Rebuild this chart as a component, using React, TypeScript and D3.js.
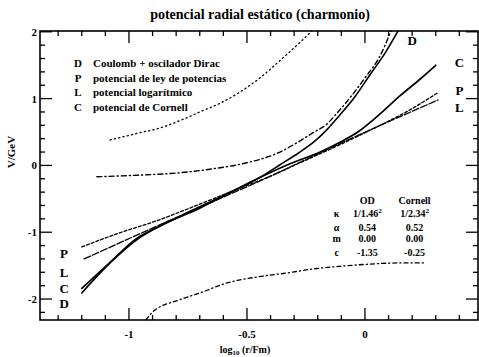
import React from 'react';
import * as d3 from 'd3';

// curve data (log10 r/Fm, V/GeV)
const dX = [-1.2, -1.08, -0.97, -0.87, -0.7, -0.57, -0.45, -0.36, -0.28, -0.21, -0.16, -0.11, -0.04, 0.02, 0.085, 0.14];
const dY = [-1.91, -1.46, -1.12, -0.91, -0.64, -0.41, -0.19, 0.01, 0.19, 0.37, 0.54, 0.74, 1.04, 1.35, 1.68, 2.01];

const cX = [-1.2, -1.08, -0.97, -0.87, -0.7, -0.57, -0.45, -0.32, -0.19, -0.11, -0.03, 0.064, 0.148, 0.233, 0.3];
const cY = [-1.84, -1.45, -1.1, -0.91, -0.62, -0.4, -0.19, 0.02, 0.2, 0.34, 0.5, 0.77, 1.04, 1.29, 1.5];

const lX = [-1.19, -0.87, -0.4, -0.11, 0.31];
const lY = [-1.4, -0.89, -0.16, 0.32, 0.98];

const pX = [-1.2, -1.04, -0.9, -0.7, -0.53, -0.4, -0.275, -0.106, 0.064, 0.19, 0.305];
const pY = [-1.22, -1.01, -0.85, -0.58, -0.34, -0.16, 0.04, 0.31, 0.6, 0.83, 1.08];

// dash-dot curve that joins D
const mX = [-1.136, -0.924, -0.784, -0.644, -0.5, -0.36, -0.288, -0.22, -0.161, -0.119, -0.064, 0, 0.064, 0.11];
const mY = [-0.17, -0.14, -0.11, -0.05, 0.04, 0.2, 0.34, 0.49, 0.62, 0.78, 1.01, 1.31, 1.64, 2.01];

// upper dotted curve
const uX = [-1.08, -0.953, -0.869, -0.771, -0.7, -0.614, -0.538, -0.445, -0.36, -0.288, -0.225];
const uY = [0.38, 0.49, 0.56, 0.69, 0.8, 0.93, 1.08, 1.31, 1.57, 1.8, 2.01];

// lower dash-dot curve
const bX = [-0.928, -0.898, -0.784, -0.7, -0.585, -0.458, -0.33, -0.22, -0.106, 0.008, 0.148, 0.25];
const bY = [-2.31, -2.19, -2.01, -1.91, -1.76, -1.67, -1.61, -1.55, -1.51, -1.48, -1.46, -1.46];

const legendKeys = ['D', 'P', 'L', 'C'];
const legendTexts = ['Coulomb + oscilador Dirac', 'potencial de ley de potencias', 'potencial logarítmico', 'potencial de Cornell'];

const tableRows = ['κ', 'α', 'm', 'c'];
const tableOD = ['1/1.46', '0.54', '0.00', '-1.35'];
const tableCornell = ['1/2.34', '0.52', '0.00', '-0.25'];

const xMajor = [-1, -0.5, 0];
const xLabels = ['-1', '-0.5', '0'];
const yMajor = [2, 1, 0, -1, -2];
const yLabels = ['2', '1', '0', '-1', '-2'];

const W = 479, H = 357;
const left = 40, right = 478, top = 31, bottom = 320;
const serif = '"Liberation Serif", "Times New Roman", serif';

export default function App() {
  const x = d3.scaleLinear().domain([-1.377, 0.479]).range([left, right]);
  const y = d3.scaleLinear().domain([-2.314, 2.012]).range([bottom, top]);

  const line = (xs: number[], ys: number[]) =>
    d3.line<number>().x((_, i) => x(xs[i])).y((_, i) => y(ys[i])).curve(d3.curveMonotoneX)(xs) || '';

  const xMinor = d3.range(-13, 5).map(v => v / 10);
  const yMinor = d3.range(-11, 11).map(v => v / 5);
  const isMajorX = (v: number) => xMajor.some(m => Math.abs(m - v) < 1e-6);
  const isMajorY = (v: number) => yMajor.some(m => Math.abs(m - v) < 1e-6);

  const curves = [
    { xs: uX, ys: uY, dash: '1.2 3.2', w: 1.3 },
    { xs: bX, ys: bY, dash: '4 3 1.2 3', w: 1.3 },
    { xs: mX, ys: mY, dash: '5 3 1.2 3', w: 1.4 },
    { xs: pX, ys: pY, dash: '3 2', w: 1.3 },
    { xs: lX, ys: lY, dash: '7 2', w: 1.3 },
    { xs: cX, ys: cY, dash: null, w: 1.7 },
    { xs: dX, ys: dY, dash: null, w: 1.6 },
  ];

  const rightLabels = [
    { t: 'D', x: 0.2, y: 1.88 },
    { t: 'C', x: 0.4, y: 1.55 },
    { t: 'P', x: 0.4, y: 1.13 },
    { t: 'L', x: 0.4, y: 0.87 },
  ];
  const leftLabels = [
    { t: 'P', y: -1.31 },
    { t: 'L', y: -1.6 },
    { t: 'C', y: -1.84 },
    { t: 'D', y: -2.06 },
  ];
  const tableHeadY = -0.52;
  const tableRowY = [-0.71, -0.92, -1.09, -1.3];

  return (
    <svg width={W} height={H} style={{ position: 'absolute', left: 0, top: 0, background: '#fff' }} fontFamily={serif}>
      <rect x={0} y={0} width={W} height={H} fill="#fff" />
      <text x={260} y={19} textAnchor="middle" fontSize={14} fontWeight="bold">potencial radial estático (charmonio)</text>

      {/* frame */}
      <rect x={left} y={top} width={right - left} height={bottom - top} fill="none" stroke="#000" strokeWidth={1.6} />

      {/* ticks */}
      {xMinor.map(v => {
        const len = isMajorX(v) ? 12 : 5;
        return (
          <g key={'xt' + v}>
            <line x1={x(v)} x2={x(v)} y1={bottom} y2={bottom - len} stroke="#000" strokeWidth={1.3} />
            <line x1={x(v)} x2={x(v)} y1={top} y2={top + len} stroke="#000" strokeWidth={1.3} />
          </g>
        );
      })}
      {yMinor.map(v => {
        const len = isMajorY(v) ? 12 : 5;
        return (
          <g key={'yt' + v}>
            <line x1={left} x2={left + len} y1={y(v)} y2={y(v)} stroke="#000" strokeWidth={1.3} />
            <line x1={right} x2={right - len} y1={y(v)} y2={y(v)} stroke="#000" strokeWidth={1.3} />
          </g>
        );
      })}
      {xMajor.map((v, i) => (
        <text key={'xl' + v} x={x(v)} y={338} textAnchor="middle" fontSize={11} fontWeight="bold">{xLabels[i]}</text>
      ))}
      {yMajor.map((v, i) => (
        <text key={'yl' + v} x={37} y={y(v) + 4} textAnchor="end" fontSize={11} fontWeight="bold">{yLabels[i]}</text>
      ))}

      <text x={245} y={353} textAnchor="middle" fontSize={10} fontWeight="bold">
        log<tspan fontSize={7} dy={2}>10</tspan><tspan dy={-2}> (r/Fm)</tspan>
      </text>
      <text transform={`translate(15,${y(0.2)}) rotate(-90)`} textAnchor="middle" fontSize={11} fontWeight="bold">V/GeV</text>

      {/* curves */}
      {curves.map((c, i) => (
        <path key={'c' + i} d={line(c.xs, c.ys)} fill="none" stroke="#000" strokeWidth={c.w}
          strokeDasharray={c.dash || undefined} strokeLinecap="round" />
      ))}

      {/* curve labels */}
      {rightLabels.map(l => (
        <text key={'r' + l.t} x={x(l.x)} y={y(l.y) + 5} textAnchor="middle" fontSize={13} fontWeight="bold">{l.t}</text>
      ))}
      {leftLabels.map(l => (
        <text key={'l' + l.t} x={x(-1.275)} y={y(l.y) + 5} textAnchor="middle" fontSize={13} fontWeight="bold">{l.t}</text>
      ))}

      {/* legend */}
      {legendKeys.map((k, i) => (
        <g key={'lg' + k} transform={`translate(0,${67 + i * 14.5})`} fontSize={11} fontWeight="bold">
          <text x={78} y={0} textAnchor="middle">{k}</text>
          <text x={93} y={0}>{legendTexts[i]}</text>
        </g>
      ))}

      {/* parameter table */}
      <g fontSize={10} fontWeight="bold">
        <text x={x(0.01)} y={y(tableHeadY) + 4} textAnchor="middle">OD</text>
        <text x={x(0.21)} y={y(tableHeadY) + 4} textAnchor="middle">Cornell</text>
        {tableRows.map((r, i) => (
          <g key={'tr' + r}>
            <text x={x(-0.12)} y={y(tableRowY[i]) + 4} textAnchor="middle">{r}</text>
            <text x={x(0.01)} y={y(tableRowY[i]) + 4} textAnchor="middle">
              {tableOD[i]}{i === 0 ? <tspan fontSize={7} dy={-4}>2</tspan> : null}
            </text>
            <text x={x(0.21)} y={y(tableRowY[i]) + 4} textAnchor="middle">
              {tableCornell[i]}{i === 0 ? <tspan fontSize={7} dy={-4}>2</tspan> : null}
            </text>
          </g>
        ))}
      </g>
    </svg>
  );
}
